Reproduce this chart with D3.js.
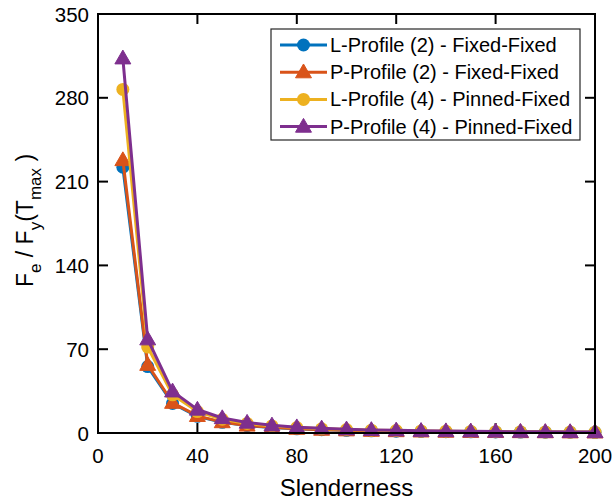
<!DOCTYPE html>
<html>
<head>
<meta charset="utf-8">
<script src="https://cdn.jsdelivr.net/npm/d3@7"></script>
<style>
  body { margin: 0; background: #fff; }
  text { font-family: "Liberation Sans", Arial, sans-serif; fill: #000; }
</style>
</head>
<body>
<div id="container"></div>
<script>
const slenderness = [10, 20, 30, 40, 50, 60, 70, 80, 90, 100, 110, 120, 130, 140, 150, 160, 170, 180, 190, 200];
const lProfile2 = [222, 55.5, 24.7, 13.9, 8.9, 6.2, 4.5, 3.5, 2.7, 2.2, 1.8, 1.5, 1.3, 1.1, 1.0, 0.87, 0.77, 0.69, 0.62, 0.56];
const pProfile2 = [228, 57, 25.3, 14.3, 9.1, 6.3, 4.7, 3.6, 2.8, 2.3, 1.9, 1.6, 1.35, 1.16, 1.01, 0.89, 0.79, 0.70, 0.63, 0.57];
const lProfile4 = [287, 71.8, 31.9, 17.9, 11.5, 8.0, 5.9, 4.5, 3.5, 2.9, 2.4, 2.0, 1.7, 1.5, 1.3, 1.1, 0.99, 0.89, 0.80, 0.72];
const pProfile4 = [313, 78.3, 34.8, 19.6, 12.5, 8.7, 6.4, 4.9, 3.9, 3.1, 2.6, 2.2, 1.85, 1.6, 1.4, 1.2, 1.08, 0.97, 0.87, 0.78];
const seriesNames = ['L-Profile (2) - Fixed-Fixed', 'P-Profile (2) - Fixed-Fixed', 'L-Profile (4) - Pinned-Fixed', 'P-Profile (4) - Pinned-Fixed'];
const xTicks = [0, 40, 80, 120, 160, 200];
const yTicks = [0, 70, 140, 210, 280, 350];

const series = [
    { name: seriesNames[0], values: lProfile2, color: '#0072BD', marker: 'circle' },
    { name: seriesNames[1], values: pProfile2, color: '#D95319', marker: 'triangle' },
    { name: seriesNames[2], values: lProfile4, color: '#EDB120', marker: 'circle' },
    { name: seriesNames[3], values: pProfile4, color: '#7E2F8E', marker: 'triangle' }
];

const W = 613, H = 501;
const margin = { top: 14, right: 18, bottom: 68, left: 98 };
const width = W - margin.left - margin.right;
const height = H - margin.top - margin.bottom;

const svg = d3.select('#container')
    .append('svg')
    .attr('width', W)
    .attr('height', H);

const g = svg.append('g')
    .attr('transform', `translate(${margin.left}, ${margin.top})`);

const x = d3.scaleLinear().domain([0, 200]).range([0, width]);
const y = d3.scaleLinear().domain([0, 350]).range([height, 0]);

const tickLen = 10;

// tick labels
g.selectAll('.xlabel')
    .data(xTicks).enter()
    .append('text')
    .attr('x', d => x(d))
    .attr('y', height + 30)
    .attr('text-anchor', 'middle')
    .attr('font-size', 20.5)
    .text(d => d);

g.selectAll('.ylabel')
    .data(yTicks).enter()
    .append('text')
    .attr('x', -9)
    .attr('y', d => y(d) + 7.5)
    .attr('text-anchor', 'end')
    .attr('font-size', 20.5)
    .text(d => d);

// ticks (inside, mirrored on top and right)
const ticks = g.append('g').attr('stroke', '#000').attr('stroke-width', 2);
xTicks.forEach(t => {
    ticks.append('line').attr('x1', x(t)).attr('x2', x(t)).attr('y1', height).attr('y2', height - tickLen);
    ticks.append('line').attr('x1', x(t)).attr('x2', x(t)).attr('y1', 0).attr('y2', tickLen);
});
yTicks.forEach(t => {
    ticks.append('line').attr('x1', 0).attr('x2', tickLen).attr('y1', y(t)).attr('y2', y(t));
    ticks.append('line').attr('x1', width).attr('x2', width - tickLen).attr('y1', y(t)).attr('y2', y(t));
});

const line = d3.line()
    .x((d, i) => x(slenderness[i]))
    .y(d => y(d));

const triangle = d3.symbol().type(d3.symbolTriangle).size(110);

const drawMarker = (sel, s, cx, cy) => {
    if (s.marker === 'circle') {
        sel.append('circle')
            .attr('cx', cx).attr('cy', cy).attr('r', 6.5)
            .attr('fill', s.color);
    } else {
        sel.append('path')
            .attr('d', triangle())
            .attr('transform', `translate(${cx}, ${cy + 1})`)
            .attr('fill', s.color)
            .attr('stroke', s.color)
            .attr('stroke-width', 1);
    }
};

series.forEach(s => {
    const sg = g.append('g');
    sg.append('path')
        .datum(s.values)
        .attr('d', line)
        .attr('fill', 'none')
        .attr('stroke', s.color)
        .attr('stroke-width', 3)
        .attr('stroke-linejoin', 'round');
    s.values.forEach((v, i) => drawMarker(sg, s, x(slenderness[i]), y(v)));
});

// box
g.append('rect')
    .attr('x', 0).attr('y', 0)
    .attr('width', width).attr('height', height)
    .attr('fill', 'none')
    .attr('stroke', '#000')
    .attr('stroke-width', 2);

// axis titles
svg.append('text')
    .attr('x', margin.left + width / 2)
    .attr('y', 496)
    .attr('text-anchor', 'middle')
    .attr('font-size', 24)
    .text('Slenderness');

const ylab = svg.append('text')
    .attr('transform', `translate(33, ${margin.top + height / 2 - 3}) rotate(-90)`)
    .attr('text-anchor', 'middle')
    .attr('font-size', 23);
ylab.append('tspan').text('F');
ylab.append('tspan').attr('font-size', 17).attr('dy', 8).text('e');
ylab.append('tspan').attr('dy', -8).text(' / F');
ylab.append('tspan').attr('font-size', 17).attr('dy', 8).text('y');
ylab.append('tspan').attr('dy', -8).text('(T');
ylab.append('tspan').attr('font-size', 17).attr('dy', 8).text('max');
ylab.append('tspan').attr('dy', -8).text(' )');

// legend
const legend = svg.append('g').attr('transform', 'translate(271, 29)');
legend.append('rect')
    .attr('width', 309).attr('height', 111)
    .attr('fill', '#fff')
    .attr('stroke', '#262626')
    .attr('stroke-width', 1.2);

series.forEach((s, i) => {
    const ly = 16 + i * 27.2;
    const row = legend.append('g');
    row.append('line')
        .attr('x1', 9).attr('x2', 56)
        .attr('y1', ly).attr('y2', ly)
        .attr('stroke', s.color)
        .attr('stroke-width', 3);
    drawMarker(row, s, 32.5, ly);
    row.append('text')
        .attr('x', 59)
        .attr('y', ly + 7)
        .attr('font-size', 20)
        .text(s.name);
});
</script>
</body>
</html>
